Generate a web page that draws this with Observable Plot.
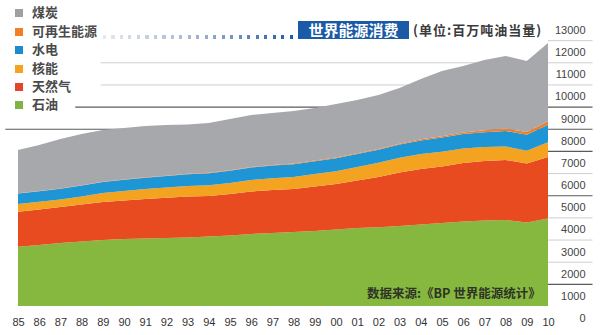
<!DOCTYPE html>
<html><head><meta charset="utf-8">
<script src="https://cdn.jsdelivr.net/npm/d3@7"></script>
<script src="https://cdn.jsdelivr.net/npm/@observablehq/plot@0.6"></script>
<style>
body{margin:0;background:#fff;}
#wrap{position:relative;width:608px;height:335px;font-family:"Liberation Sans","Noto Sans CJK SC",sans-serif;overflow:hidden;}
#chart{position:absolute;left:0;top:0;}
.leg{position:absolute;left:15px;font:bold 13px "Noto Sans CJK SC",sans-serif;color:#4a4a4a;line-height:16px;}
.leg i{display:inline-block;width:8px;height:8px;margin-right:9px;vertical-align:0px;}
#title{position:absolute;left:298px;top:21px;width:111px;height:18px;background:#1b5aa6;color:#fff;font:bold 15px "Noto Sans CJK SC",sans-serif;line-height:18px;text-align:center;}
#unit{position:absolute;left:413px;top:21px;font:bold 13px "Noto Sans CJK SC",sans-serif;color:#3a3a3a;line-height:18px;letter-spacing:1px;}
#dots{position:absolute;left:103px;top:35px;width:192px;height:4px;background:linear-gradient(to right,#e6e9ee,#9fb3cf 50%,#1b5aa6);-webkit-mask-image:repeating-linear-gradient(to right,#000 0 3px,transparent 3px 8.5px);mask-image:repeating-linear-gradient(to right,#000 0 3px,transparent 3px 8.5px);}
#src{position:absolute;left:367px;top:285px;font:bold 12.5px "Noto Sans CJK SC",sans-serif;color:#2e3326;line-height:16px;}
</style></head><body><div id="wrap"><div id="chart"></div></div>
<script>
const years = [1985,1986,1987,1988,1989,1990,1991,1992,1993,1994,1995,1996,1997,1998,1999,2000,2001,2002,2003,2004,2005,2006,2007,2008,2009,2010];
const yearLabels = ["85","86","87","88","89","90","91","92","93","94","95","96","97","98","99","00","01","02","03","04","05","06","07","08","09","10"];
// Million tonnes oil equivalent
const oil     = [2677,2754,2844,2912,2980,3025,3048,3070,3093,3138,3183,3251,3296,3341,3386,3454,3522,3555,3612,3680,3747,3815,3860,3883,3770,3951];
const gas     = [1581,1603,1626,1671,1716,1738,1783,1820,1851,1829,1874,1919,1941,1942,2009,2054,2144,2269,2415,2506,2551,2641,2687,2709,2664,2776];
const nuclear = [348,345,340,361,406,429,452,461,474,480,497,519,530,545,560,575,610,640,660,670,665,650,630,610,575,670];
const hydro   = [470,475,485,490,495,505,510,515,530,545,555,565,570,575,580,590,585,590,600,620,640,660,670,700,720,780];
const renew   = [12,13,14,15,16,17,18,19,20,21,22,23,25,26,28,30,33,36,42,50,60,70,85,105,120,160];
const coal    = [1955,2079,2231,2317,2333,2323,2316,2287,2227,2249,2312,2347,2352,2375,2377,2417,2407,2437,2514,2723,2947,3000,3175,3281,3213,3537];

const sources = ["石油","天然气","核能","水电","可再生能源","煤炭"];
const legendOrder = ["煤炭","可再生能源","水电","核能","天然气","石油"];
const yTicks = [0,1000,2000,3000,4000,5000,6000,7000,8000,9000,10000,11000,12000,13000];
const gridValues = [1000,2000,3000,4000,5000,6000,7000,8000,9000,10000,11000,12000];
const titleText = "世界能源消费";
const unitText = "(单位:百万吨油当量)";
const sourceText = "数据来源:《BP 世界能源统计》";

const areaColors = ["#86b83f","#e84b1f","#f4a321","#1e96d6","#f07f2a","#a7a8ac"];
const legendColors = {"煤炭":"#a0a0a2","可再生能源":"#f07f2a","水电":"#1e8ccc","核能":"#f4a321","天然气":"#e4452a","石油":"#7fb342"};

const series = [oil, gas, nuclear, hydro, renew, coal];
const rows = years.flatMap((yr, i) => sources.map((s, k) => ({year: yr, source: s, value: series[k][i]})));

const darkGrid = new Set([1000,5000,7000,8000,9000]);
const gridStart = v => v === 8000 ? 1984.4 : v === 9000 ? 1987.7 : (v === 10000 || v === 11000) ? 1988.9 : 2010;

const chart = Plot.plot({
  width: 608, height: 335,
  marginLeft: 18, marginRight: 60, marginTop: 18, marginBottom: 29,
  x: {domain: [1985, 2010], axis: null},
  y: {domain: [0, 13000], axis: null},
  color: {domain: sources, range: areaColors},
  style: {fontFamily: '"Liberation Sans","Noto Sans CJK SC",sans-serif', background: "transparent", overflow: "visible"},
  marks: [
    Plot.ruleY(gridValues, {y: d => d, x1: gridStart, x2: 2012.1, stroke: d => darkGrid.has(d) ? "#5a5a5a" : "#cfcfcf", strokeWidth: d => darkGrid.has(d) ? 1.2 : 1}),
    Plot.areaY(rows, {x: "year", y: "value", fill: "source", order: sources}),
    Plot.text(years, {x: d => d, y: 0, text: (d, i) => yearLabels[i], dy: 16, fontSize: 11, fill: "#333"}),
    Plot.text(yTicks, {x: 2011.75, y: d => d, text: d => String(d), textAnchor: "end", dy: 12, fontSize: 11, fill: "#444"})
  ]
});
document.getElementById("chart").appendChild(chart);

const wrap = document.getElementById("wrap");
const legTops = [4, 23, 41, 60, 78, 96];
legendOrder.forEach((s, i) => {
  const d = document.createElement("div");
  d.className = "leg";
  d.style.top = legTops[i] + "px";
  d.innerHTML = `<i style="background:${legendColors[s]}"></i>${s}`;
  wrap.appendChild(d);
});
const dots = document.createElement("div"); dots.id = "dots"; wrap.appendChild(dots);
const t = document.createElement("div"); t.id = "title"; t.textContent = titleText; wrap.appendChild(t);
const u = document.createElement("div"); u.id = "unit"; u.textContent = unitText; wrap.appendChild(u);
const src = document.createElement("div"); src.id = "src"; src.textContent = sourceText; wrap.appendChild(src);
</script>
</body></html>
